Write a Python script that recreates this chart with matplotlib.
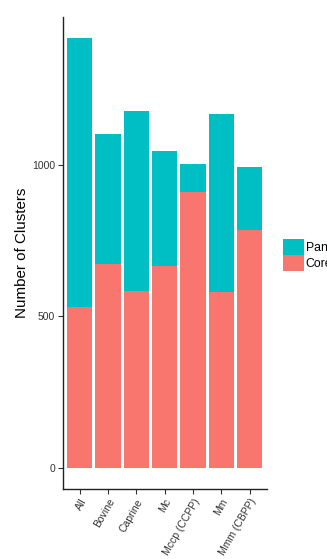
import numpy as np
import matplotlib
matplotlib.use("Agg")
import matplotlib.pyplot as plt
from matplotlib.patches import Patch

plt.rcParams["font.family"] = ["Liberation Sans", "DejaVu Sans"]

# Werte
categories = ["All", "Bovine", "Caprine", "Mc", "Mccp (CCPP)", "Mm", "Mmm (CBPP)"]
core = [531, 674, 584, 667, 911, 581, 786]
pan_total = [1418, 1104, 1180, 1045, 1005, 1170, 992]
y_ticks = [0, 500, 1000]

COL_PAN = "#00BFC4"
COL_CORE = "#F8766D"

pan_extra = [t - c for t, c in zip(pan_total, core)]

fig = plt.figure(figsize=(3.27, 5.59), dpi=100)
ax = fig.add_axes([0.1917, 0.1247, 0.6239, 0.8449])

x = np.arange(len(categories))
ax.bar(x, core, width=0.9, color=COL_CORE, linewidth=0)
ax.bar(x, pan_extra, bottom=core, width=0.9, color=COL_PAN, linewidth=0)

ax.set_xlim(-0.6, len(categories) - 0.4)
ymax = max(pan_total)
ax.set_ylim(-0.05 * ymax, 1.05 * ymax)

ax.set_xticks(x)
ax.set_xticklabels(categories, rotation=60, ha="right", va="top",
                   rotation_mode="anchor", fontsize=7.5, color="#333333")
ax.set_yticks(y_ticks)
ax.set_yticklabels([str(v) for v in y_ticks], fontsize=7.5, color="#333333")
ax.tick_params(axis="both", length=3.5, width=0.8, color="#333333", pad=2)
ax.set_ylabel("Number of Clusters", fontsize=10.9, labelpad=2)

for side in ["top", "right"]:
    ax.spines[side].set_visible(False)
for side in ["left", "bottom"]:
    ax.spines[side].set_linewidth(1.0)
    ax.spines[side].set_color("#222222")

handles = [Patch(facecolor=COL_PAN, linewidth=0), Patch(facecolor=COL_CORE, linewidth=0)]
fig.legend(handles, ["Pan", "Core"], loc="upper left",
           bbox_to_anchor=(0.8645, 0.5725), frameon=False, fontsize=8.8,
           borderpad=0, borderaxespad=0, labelspacing=0,
           handlelength=1.75, handleheight=1.65, handletextpad=0.12)

fig.savefig("out.png", dpi=100)
